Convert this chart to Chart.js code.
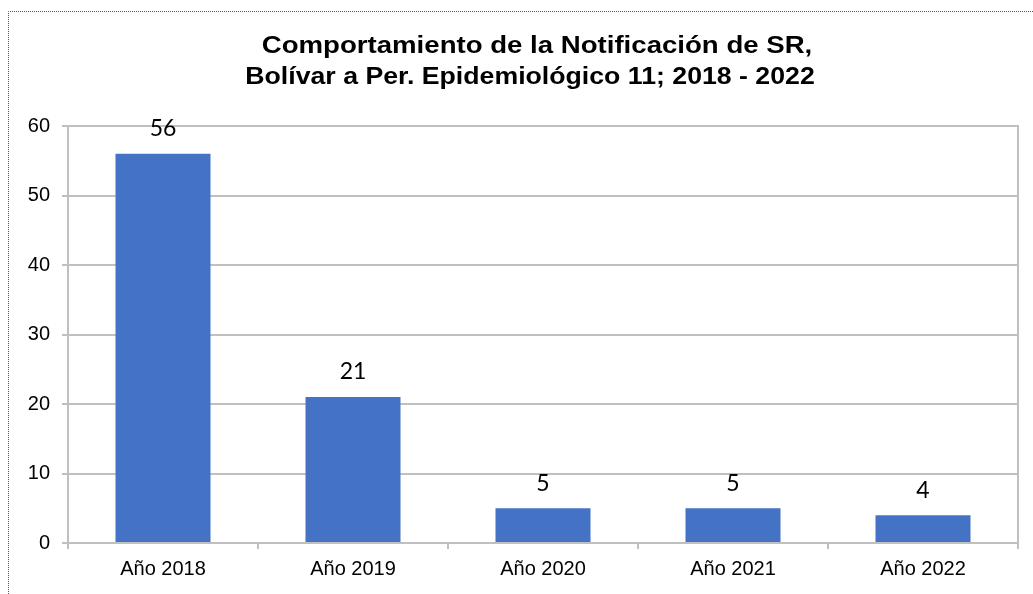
<!DOCTYPE html>
<html>
<head>
<meta charset="utf-8">
<script src="https://cdn.jsdelivr.net/npm/chart.js@4/dist/chart.umd.min.js"></script>
<style>
html,body{margin:0;padding:0;background:#fff;}
#wrap{width:1033px;height:594px;position:relative;}
</style>
</head>
<body>
<div id="wrap"><canvas id="c" width="1033" height="594"></canvas></div>
<script>
const categories = ["Año 2018", "Año 2019", "Año 2020", "Año 2021", "Año 2022"];
const values = [56, 21, 5, 5, 4];
const titleLines = ["Comportamiento de la Notificación de SR,", "Bolívar a Per. Epidemiológico 11; 2018 - 2022"];
const yMax = 60;
const yStep = 10;

const gridColor = "#c0c0c0";

const decor = {
  id: "decor",
  beforeDraw(chart) {
    const ctx = chart.ctx;
    ctx.save();
    ctx.fillStyle = "#fff";
    ctx.fillRect(0, 0, chart.width, chart.height);
    ctx.strokeStyle = "#555";
    ctx.lineWidth = 1;
    ctx.setLineDash([1, 1]);
    ctx.beginPath();
    ctx.moveTo(8.5, chart.height);
    ctx.lineTo(8.5, 11.5);
    ctx.lineTo(chart.width, 11.5);
    ctx.stroke();
    ctx.restore();
  },
  afterDatasetsDraw(chart) {
    const ctx = chart.ctx;
    const a = chart.chartArea;
    ctx.save();
    ctx.strokeStyle = gridColor;
    ctx.lineWidth = 2;
    ctx.strokeRect(a.left, a.top, a.right - a.left, a.bottom - a.top);
    // title (slightly widened to match the reference proportions)
    ctx.fillStyle = "#000";
    ctx.font = "bold 23px 'Liberation Sans', Arial, sans-serif";
    ctx.textAlign = "center";
    ctx.textBaseline = "middle";
    const drawLine = (txt, cx, cy, sx) => {
      ctx.save();
      ctx.scale(sx, 1);
      ctx.fillText(txt, cx / sx, cy);
      ctx.restore();
    };
    drawLine(titleLines[0], 537, 47, 1.2);
    drawLine(titleLines[1], 530, 78, 1.16);
    // data labels
    ctx.font = "23px Lato, 'Open Sans', sans-serif";
    const meta = chart.getDatasetMeta(0);
    meta.data.forEach((bar, i) => {
      ctx.fillText(String(chart.data.datasets[0].data[i]), bar.x, bar.y - 25);
    });
    ctx.restore();
  }
};

new Chart(document.getElementById("c"), {
  type: "bar",
  data: {
    labels: categories,
    datasets: [{
      data: values,
      backgroundColor: "#4472C4",
      borderWidth: 0,
      categoryPercentage: 1,
      barPercentage: 0.5
    }]
  },
  options: {
    responsive: false,
    animation: false,
    layout: { padding: { left: 0, right: 15, top: 126, bottom: 0 } },
    plugins: { legend: { display: false }, title: { display: false }, tooltip: { enabled: false } },
    scales: {
      x: {
        afterFit(s) { s.height = 51; },
        grid: { display: true, drawOnChartArea: false, drawTicks: true, tickLength: 6, color: gridColor, lineWidth: 2, offset: true },
        border: { display: true, color: gridColor, width: 2 },
        ticks: { color: "#000", font: { family: "'Liberation Sans', Arial, sans-serif", size: 20 }, padding: 8, maxRotation: 0 }
      },
      y: {
        min: 0, max: yMax,
        afterFit(s) { s.width = 68; },
        grid: { color: gridColor, lineWidth: 2, drawTicks: true, tickLength: 6 },
        border: { display: true, color: gridColor, width: 2 },
        ticks: { stepSize: yStep, color: "#000", font: { family: "'Liberation Sans', Arial, sans-serif", size: 20 }, padding: 12 }
      }
    }
  },
  plugins: [decor]
});
</script>
</body>
</html>
